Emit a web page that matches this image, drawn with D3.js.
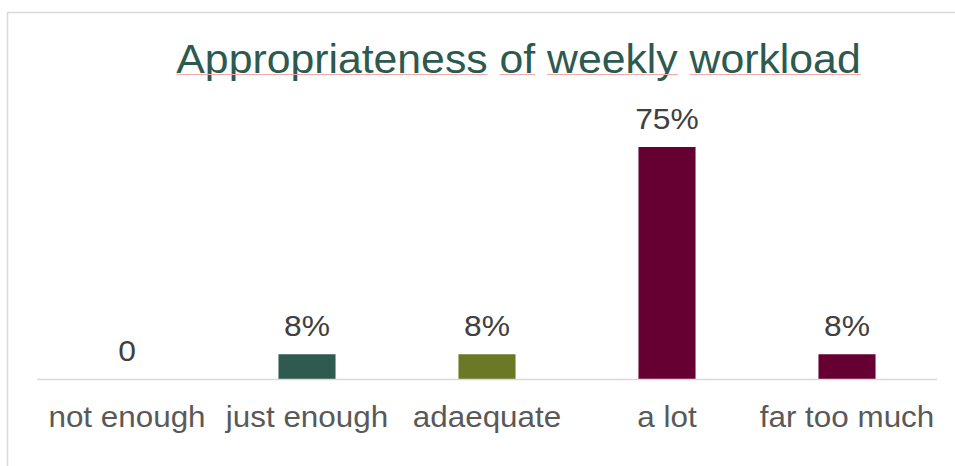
<!DOCTYPE html>
<html>
<head>
<meta charset="utf-8">
<script src="https://cdn.jsdelivr.net/npm/d3@7"></script>
<style>
  html, body { margin: 0; padding: 0; background: #fff; }
  svg { display: block; }
  text { font-family: "Liberation Sans", Arial, sans-serif; }
</style>
</head>
<body>
<svg id="chart" width="955" height="466"></svg>
<script>
const categories = ["not enough", "just enough", "adaequate", "a lot", "far too much"];
const values = [0, 8, 8, 75, 8];
const valueLabels = ["0", "8%", "8%", "75%", "8%"];
const barColors = ["#2E5A4F", "#2E5A4F", "#6B7825", "#660033", "#660033"];
const titleText = "Appropriateness of weekly workload";

const svg = d3.select("#chart");

// chart border
svg.append("rect")
  .attr("x", 7.5).attr("y", 12.5)
  .attr("width", 1000).attr("height", 600)
  .attr("fill", "#fff")
  .attr("stroke", "#d9d9d9").attr("stroke-width", 1.5);

const x = d3.scaleBand()
  .domain(categories)
  .range([37, 937])
  .paddingInner(0.683)
  .paddingOuter(0.3415);

const y = d3.scaleLinear()
  .domain([0, 80])
  .range([379, 379 - 232 * 80 / 75]);

// title with per-word underline
const tg = svg.append("g").attr("transform", "translate(518.5,73) scale(1.069,1)");
const title = tg.append("text")
  .attr("x", 0).attr("y", 0)
  .attr("text-anchor", "middle")
  .attr("font-size", 40)
  .attr("fill", "#2D5A50")
  .text(titleText);

const words = titleText.split(" ");
const tnode = title.node();
let charIdx = 0;
words.forEach((w) => {
  const start = tnode.getStartPositionOfChar(charIdx).x;
  const end = tnode.getEndPositionOfChar(charIdx + w.length - 1).x;
  tg.append("line")
    .attr("x1", start).attr("x2", end)
    .attr("y1", 1.5).attr("y2", 1.5)
    .attr("stroke", "#F2A9A9").attr("stroke-width", 1);
  charIdx += w.length + 1;
});

// bars
svg.append("g").selectAll("rect")
  .data(categories)
  .join("rect")
  .attr("x", d => x(d))
  .attr("width", x.bandwidth())
  .attr("y", (d, i) => y(values[i]))
  .attr("height", (d, i) => y(0) - y(values[i]))
  .attr("fill", (d, i) => barColors[i]);

// baseline axis
const axis = d3.axisBottom(x).tickSize(0).tickPadding(0);
const gx = svg.append("g")
  .attr("transform", `translate(0,${y(0)})`)
  .call(axis);
gx.select(".domain").attr("stroke", "#d9d9d9").attr("stroke-width", 1.5)
  .attr("d", "M37,0.5H937");
gx.selectAll(".tick text")
  .attr("font-family", "'Liberation Sans', Arial, sans-serif")
  .attr("font-size", 30)
  .attr("fill", "#595959")
  .attr("dy", null)
  .attr("y", 48)
  .attr("transform", "scale(1.047,1)");

// value labels
svg.append("g").selectAll("g")
  .data(categories)
  .join("g")
  .attr("transform", (d, i) => `translate(${x(d) + x.bandwidth() / 2},${y(values[i]) - 18}) scale(1.06,1)`)
  .append("text")
  .attr("text-anchor", "middle")
  .attr("font-size", 30)
  .attr("fill", "#404040")
  .text((d, i) => valueLabels[i]);
</script>
</body>
</html>
